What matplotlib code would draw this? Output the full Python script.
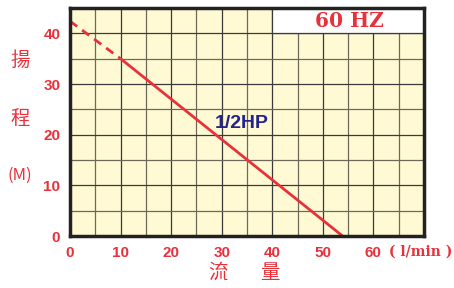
import matplotlib
matplotlib.use("Agg")
import matplotlib.pyplot as plt
from matplotlib.patches import Rectangle

# pump curve (flow l/min, head m)
dash_x = [0, 10]
dash_y = [42.4, 35.0]
solid_x = [10, 53.9]
solid_y = [35.0, 0]

x_ticks = [0, 10, 20, 30, 40, 50, 60]
y_ticks = [0, 10, 20, 30, 40]

red = "#e8313a"
navy = "#24248c"

fig = plt.figure(figsize=(4.54, 2.88), dpi=100)
ax = fig.add_axes([70 / 454, 52 / 288, 354 / 454, 228 / 288])
ax.set_facecolor("#fffad4")
ax.set_xlim(0, 70)
ax.set_ylim(0, 45)

# grid every 5 units
for gx in range(5, 70, 5):
    ax.axvline(gx, color="#3a3a3a" if gx % 10 == 0 else "#6e6858", lw=0.9, zorder=1)
for gy in range(5, 45, 5):
    ax.axhline(gy, color="#3a3a3a" if gy % 10 == 0 else "#6e6858", lw=0.9, zorder=1)

# white header box
ax.add_patch(Rectangle((40, 40), 30, 5, facecolor="white", edgecolor="#3a3a3a", lw=0.9, zorder=2))
ax.text(55.2, 42.5, "60 HZ", color=red, fontsize=14.5, fontweight="bold",
        family="DejaVu Serif", ha="center", va="center", zorder=3)

ax.plot(dash_x, dash_y, color=red, lw=2, ls=(0, (3.2, 2.2)), zorder=4)
ax.plot(solid_x, solid_y, color=red, lw=2, zorder=4, solid_capstyle="butt")
ax.text(34, 22.3, "1/2HP", color=navy, fontsize=14, fontweight="bold",
        family="Liberation Sans", ha="center", va="center", zorder=5)

for s in ax.spines.values():
    s.set_linewidth(2.5)
    s.set_color("#222222")
    s.set_zorder(6)

ax.set_xticks(x_ticks)
ax.set_yticks(y_ticks)
ax.tick_params(length=0, pad=7, labelcolor=red)
for lbl in ax.get_xticklabels() + ax.get_yticklabels():
    lbl.set_fontweight("bold")
    lbl.set_fontsize(11)
    lbl.set_family("Liberation Sans")

cjk = ["Noto Sans CJK TC", "DejaVu Sans"]
fig.text(20 / 454, 1 - 60 / 288, "揚", color=red, fontsize=14, family=cjk, ha="center", va="center")
fig.text(20 / 454, 1 - 118 / 288, "程", color=red, fontsize=14, family=cjk, ha="center", va="center")
fig.text(20 / 454, 1 - 175 / 288, "(M)", color=red, fontsize=12, family=cjk, ha="center", va="center")
fig.text(218 / 454, 1 - 272 / 288, "流", color=red, fontsize=14, family=cjk, ha="center", va="center")
fig.text(270 / 454, 1 - 272 / 288, "量", color=red, fontsize=14, family=cjk, ha="center", va="center")
fig.text(421 / 454, 1 - 252 / 288, "( l/min )", color=red, fontsize=10, fontweight="bold",
         family="DejaVu Serif", ha="center", va="center")

fig.savefig("out.png", dpi=100)
